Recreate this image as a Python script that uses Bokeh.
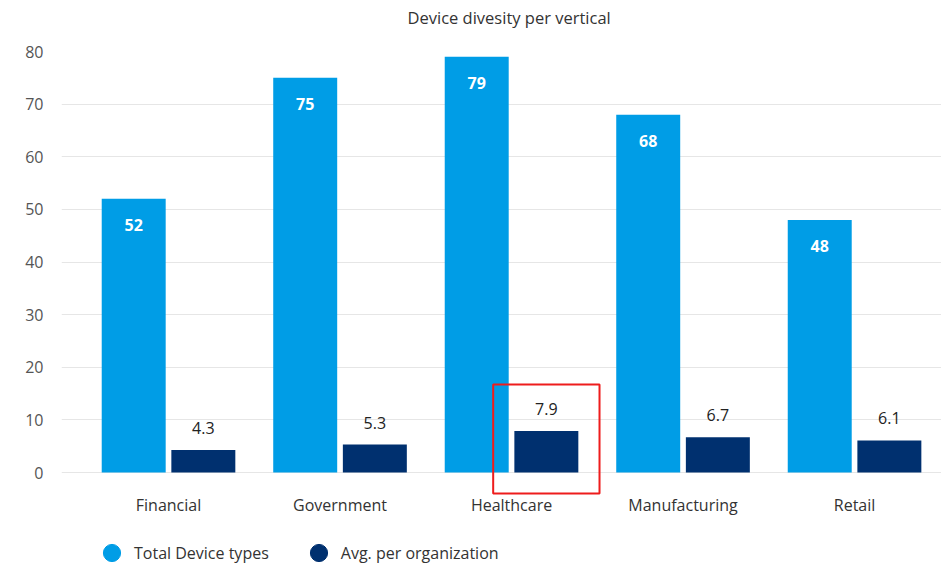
from bokeh.plotting import figure
from bokeh.models import Range1d, FixedTicker, Legend, LegendItem, ColumnDataSource, Title
from bokeh.core.properties import value
from bokeh.embed import file_html
from bokeh.resources import INLINE

categories = ["Financial", "Government", "Healthcare", "Manufacturing", "Retail"]
total_types = [52, 75, 79, 68, 48]
avg_per_org = [4.3, 5.3, 7.9, 6.7, 6.1]
y_ticks = [0, 10, 20, 30, 40, 50, 60, 70, 80]
highlight = "Healthcare"
chart_title = "Device divesity per vertical"

LIGHT = "#009de6"
NAVY = "#00306f"
FONT = "Open Sans"

xs = list(range(len(categories)))
off = 0.203
bw = 0.373

src = ColumnDataSource(dict(
    x1=[i - off for i in xs], x2=[i + off for i in xs],
    t=total_types, a=avg_per_org,
    tl=[str(v) for v in total_types], al=[str(v) for v in avg_per_org],
))

y_start, y_end = -17.67, 80

# the frame reaches down to hold the legend; the category axis is pinned below zero
p = figure(frame_width=880, frame_height=514, min_border_left=61, min_border_right=0,
           min_border_top=51, min_border_bottom=0,
           x_range=Range1d(-0.624, 4.507), y_range=Range1d(y_start, y_end),
           output_backend="svg", toolbar_location=None, tools="", title=None)
p.outline_line_color = None
p.background_fill_color = "white"
p.border_fill_color = "white"

# spacer between frame and title, then the title itself
p.add_layout(Title(text=" ", text_font_size="1px", standoff=20), "above")
p.add_layout(Title(text=chart_title, align="left", offset=346, standoff=0,
                   text_font=FONT, text_font_size="16.5px", text_font_style="normal",
                   text_color="#333333"), "above")

p.vbar(x="x1", top="t", bottom=0, width=bw, source=src, color=LIGHT, line_color=None)
p.vbar(x="x2", top="a", bottom=0, width=bw, source=src, color=NAVY, line_color=None)

p.text(x="x1", y="t", text="tl", source=src, text_align="center", text_baseline="middle",
       y_offset=26, text_color="white", text_font=value(FONT), text_font_size="16px",
       text_font_style="bold")
p.text(x="x2", y="a", text="al", source=src, text_align="center", text_baseline="middle",
       y_offset=-22, text_color="#222222", text_font=value(FONT), text_font_size="16px")

# highlight box around the highlighted category's average bar
hi = categories.index(highlight)
hv = avg_per_org[hi]
p.quad(left=[hi + off - 0.31], right=[hi + off + 0.31], bottom=[-4.0], top=[hv + 8.8],
       fill_color=None, line_color="#ee1c1c", line_width=2)

# axes
p.xaxis.fixed_location = -8.17
p.xaxis.ticker = FixedTicker(ticks=xs)
p.xaxis.major_label_overrides = {i: c for i, c in zip(xs, categories)}
p.xaxis.axis_line_color = None
p.xaxis.major_tick_line_color = None
p.xaxis.minor_tick_line_color = None
p.xaxis.major_tick_out = 0
p.xaxis.major_tick_in = 0
p.xaxis.minor_tick_out = 0
p.xaxis.major_label_standoff = -22
p.xaxis.major_label_text_font = FONT
p.xaxis.major_label_text_font_size = "16px"
p.xaxis.major_label_text_color = "#333333"

p.yaxis.ticker = FixedTicker(ticks=y_ticks)
p.yaxis.axis_line_color = None
p.yaxis.major_tick_line_color = None
p.yaxis.minor_tick_line_color = None
p.yaxis.major_tick_out = 0
p.yaxis.major_tick_in = 0
p.yaxis.minor_tick_out = 0
p.yaxis.major_label_standoff = 18
p.yaxis.major_label_text_font = FONT
p.yaxis.major_label_text_font_size = "16px"
p.yaxis.major_label_text_color = "#555555"

p.xgrid.grid_line_color = None
p.ygrid.grid_line_color = "#e6e6e6"
p.ygrid.grid_line_width = 1

# legend proxies: one point each, kept outside the visible range
proxy_y = [y_start - 100]
r1 = p.scatter(x=[xs[0]], y=proxy_y, marker="circle", size=17, fill_color=LIGHT, line_color=LIGHT)
r2 = p.scatter(x=[xs[0]], y=proxy_y, marker="circle", size=17, fill_color=NAVY, line_color=NAVY)
legend = Legend(items=[LegendItem(label="Total Device types", renderers=[r1]),
                       LegendItem(label="Avg. per organization", renderers=[r2])],
                orientation="horizontal", location=(29, -9),
                border_line_color=None, background_fill_alpha=0,
                padding=0, margin=0, spacing=28, label_standoff=1,
                glyph_width=43, glyph_height=43, label_height=43,
                label_text_font=FONT, label_text_font_size="16px",
                label_text_color="#333333")
p.add_layout(legend, "center")

open("out.html", "w").write(file_html(p, INLINE))
